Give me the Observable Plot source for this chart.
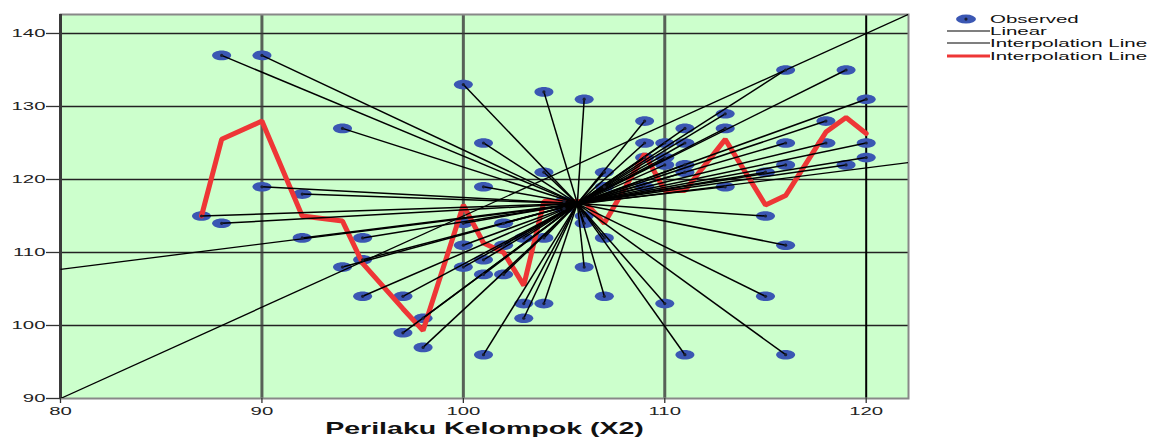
<!DOCTYPE html>
<html>
<head>
<meta charset="utf-8">
<script src="https://cdn.jsdelivr.net/npm/d3@7"></script>
<script src="https://cdn.jsdelivr.net/npm/@observablehq/plot@0.6"></script>
<style>
  body { margin: 0; background: #fff; font-family: "Liberation Sans", Arial, sans-serif; }
  #wrap { position: relative; width: 1149px; height: 439px; }
  #legend { position: absolute; left: 946px; top: 13px; font-size: 11.5px; color: #111; }
  .row { position: relative; height: 12.2px; line-height: 12.2px; white-space: nowrap; }
  .row .sw { position: absolute; left: 0; top: 0; width: 44px; height: 12.2px; }
  .row .lab { position: absolute; left: 44px; top: 0; transform: scaleX(1.78); transform-origin: left center; }
</style>
</head>
<body>
<div id="wrap">
  <div id="chart"></div>
  <div id="legend"></div>
</div>
<script>
// Observed scores: Perilaku Kelompok (X2) vs. the dependent score
const obsX = [
  87, 88, 88, 90, 90, 92, 92, 94, 94, 95, 95, 95, 97, 97, 98, 98,
  100, 100, 100, 100, 101, 101, 101, 101, 101, 102, 102, 102,
  103, 103, 103, 104, 104, 104, 104, 105, 105, 106, 106, 106, 106,
  107, 107, 107, 107, 109, 109, 109, 109, 110, 110, 110, 110,
  111, 111, 111, 111, 111, 113, 113, 113, 115, 115, 115,
  116, 116, 116, 116, 116, 118, 118, 119, 119, 120, 120, 120
];
const obsY = [
  115, 137, 114, 137, 119, 118, 112, 127, 108, 112, 109, 104, 104, 99, 101, 97,
  133, 114, 111, 108, 125, 119, 109, 107, 96, 114, 111, 107,
  112, 103, 101, 132, 121, 112, 103, 117, 116, 131, 115, 114, 108,
  121, 119, 112, 104, 128, 125, 123, 119, 125, 123, 122, 103,
  127, 125, 122, 121, 96, 129, 127, 119, 121, 115, 104,
  135, 125, 122, 111, 96, 128, 125, 135, 122, 131, 125, 123
];

// Red interpolation line through the mean score at each X2 value
const meanX = [87, 88, 90, 92, 94, 95, 97, 98, 100, 101, 102, 103, 104, 105, 106, 107, 109, 110, 111, 113, 115, 116, 118, 119, 120];
const meanY = [115, 125.5, 128, 115, 114.3, 108.5, 102.3, 99.3, 116.5, 111.3, 110, 105.5, 117, 117, 117, 114, 123.5, 118.5, 118.5, 125.5, 116.5, 117.8, 126.5, 128.5, 126.3];

// Centroid that the spokes radiate from
const centroidX = 105.66;
const centroidY = 116.7;

// Straight lines across the panel: intercept at X2 = 80 and slope
const fitIntercept = [90, 107.7];
const fitSlope = [1.25, 0.347];

const xTicks = [80, 90, 100, 110, 120];
const yTicks = [90, 100, 110, 120, 130, 140];
const xDomain = [80, 122.1];
const yDomain = [90, 142.6];

const obs = obsX.map((x, i) => ({x, y: obsY[i]}));
const fits = fitIntercept.map((a, i) => ({a, b: fitSlope[i]}));

const BLUE = "#3b57b3";
const RED = "#ee3636";
const GREEN = "#ccffcc";

// Flat ellipse used for the observed markers
const ellipse = {
  draw(ctx) {
    const rx = 9.5, ry = 4.8, k = 0.5523;
    ctx.moveTo(rx, 0);
    ctx.bezierCurveTo(rx, ry * k, rx * k, ry, 0, ry);
    ctx.bezierCurveTo(-rx * k, ry, -rx, ry * k, -rx, 0);
    ctx.bezierCurveTo(-rx, -ry * k, -rx * k, -ry, 0, -ry);
    ctx.bezierCurveTo(rx * k, -ry, rx, -ry * k, rx, 0);
    ctx.closePath();
  }
};

const chart = Plot.plot({
  width: 1149,
  height: 439,
  marginLeft: 60,
  marginRight: 241,
  marginTop: 14,
  marginBottom: 41,
  style: {fontFamily: "'Liberation Sans', Arial, sans-serif", background: "white", overflow: "visible"},
  x: {domain: xDomain},
  y: {domain: yDomain},
  marks: [
    Plot.frame({fill: GREEN, stroke: null}),
    Plot.ruleY(yTicks.slice(1), {stroke: "#222", strokeWidth: 1.3}),
    Plot.ruleX(xTicks.slice(1, 4), {stroke: "#3a3a3a", strokeWidth: 3, strokeOpacity: 0.8}),
    Plot.ruleX(xTicks.slice(4), {stroke: "#000", strokeWidth: 2}),
    Plot.frame({stroke: "#888", strokeWidth: 2}),
    Plot.ruleX(xTicks.slice(0, 1), {stroke: "#3a3a3a", strokeWidth: 3}),
    Plot.dot(obs, {x: "x", y: "y", symbol: ellipse, fill: BLUE, stroke: null}),
    Plot.line(meanX.map((x, i) => ({x, y: meanY[i]})), {x: "x", y: "y", stroke: RED, strokeWidth: 5, strokeLinejoin: "miter"}),
    Plot.link(fits, {
      x1: () => xDomain[0], y1: d => d.a,
      x2: () => xDomain[1], y2: d => d.a + d.b * (xDomain[1] - xDomain[0]),
      stroke: "#000", strokeWidth: 1.3, clip: true
    }),
    Plot.link(obs, {
      x1: () => centroidX, y1: () => centroidY, x2: "x", y2: "y",
      stroke: "#000", strokeWidth: 1.5
    }),
    Plot.dot(obs, {x: "x", y: "y", r: 1.6, fill: "#1a1f33", stroke: null}),
    Plot.axisY(yTicks, {tickSize: 14, tickPadding: 1, fontSize: 11, label: null, stroke: "#333", strokeWidth: 1.3, color: "#222"}),
    Plot.axisX(xTicks, {tickSize: 5, tickPadding: 4, fontSize: 11, label: null, stroke: "#333", strokeWidth: 1.3, color: "#222"}),
    Plot.text(["Perilaku Kelompok (X2)"], {frameAnchor: "bottom", dy: 24, lineAnchor: "top", fontSize: 16.5, fontWeight: "bold", fill: "#111"})
  ]
});

document.getElementById("chart").appendChild(chart);

// Widen every label horizontally about its own anchor point
d3.select(chart).selectAll("text").each(function () {
  const size = parseFloat(getComputedStyle(this).fontSize) || 11;
  const sx = size > 14 ? 1.73 : 1.85;
  const t = this.getAttribute("transform") || "";
  this.setAttribute("transform", t + ` scale(${sx},1)`);
});

// Legend
const legendItems = [
  {label: "Observed", kind: "dot"},
  {label: "Linear", kind: "line", color: "#555", w: 1.5},
  {label: "Interpolation Line", kind: "line", color: "#555", w: 1.5},
  {label: "Interpolation Line", kind: "line", color: RED, w: 3}
];
const legend = d3.select("#legend");
for (const item of legendItems) {
  const row = legend.append("div").attr("class", "row");
  const sw = row.append("svg").attr("class", "sw").attr("width", 44).attr("height", 12.2);
  if (item.kind === "dot") {
    sw.append("ellipse").attr("cx", 20).attr("cy", 6.1).attr("rx", 10).attr("ry", 4.5).attr("fill", BLUE);
    sw.append("circle").attr("cx", 20).attr("cy", 6.1).attr("r", 1.6).attr("fill", "#1a1f33");
  } else {
    sw.append("line").attr("x1", 1).attr("x2", 44).attr("y1", 6.1).attr("y2", 6.1)
      .attr("stroke", item.color).attr("stroke-width", item.w);
  }
  row.append("span").attr("class", "lab").text(item.label);
}
</script>
</body>
</html>
